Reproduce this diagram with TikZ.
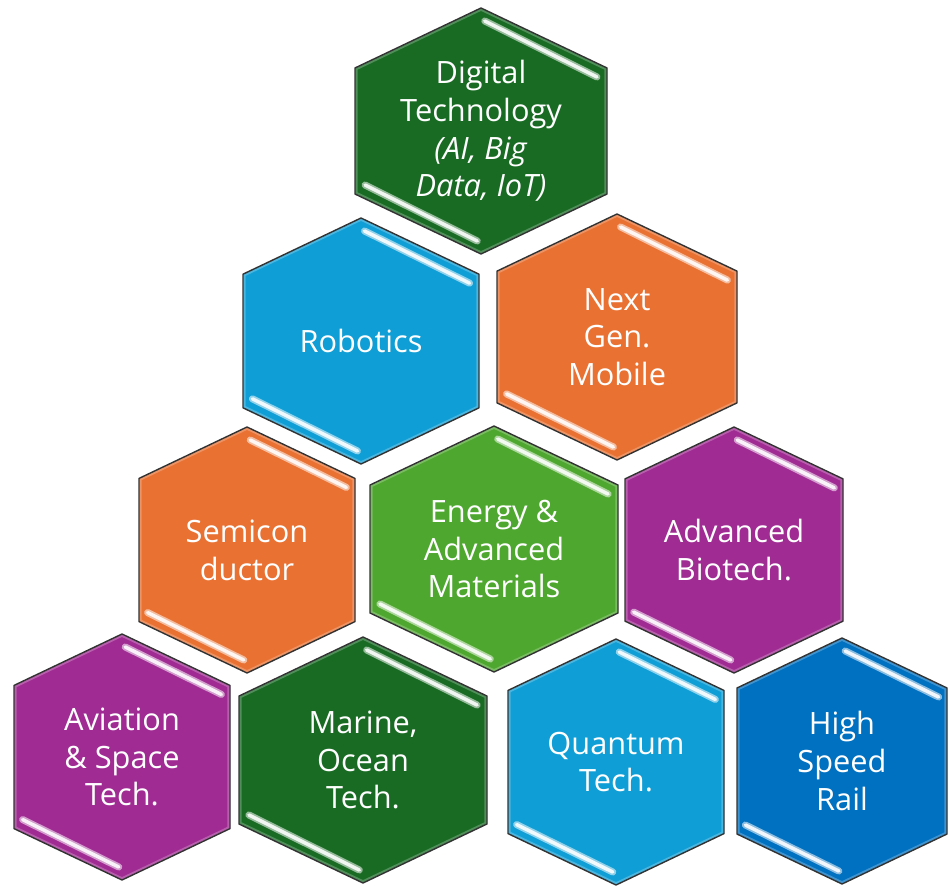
\documentclass[tikz,border=0pt]{standalone}
\usepackage{fontspec}
\setmainfont{Open Sans}
\usepackage{xcolor}

\definecolor{darkgreen}{HTML}{196B24}
\definecolor{lightgreen}{HTML}{4EA72E}
\definecolor{skyblue}{HTML}{0F9ED5}
\definecolor{railblue}{HTML}{0070C0}
\definecolor{techorange}{HTML}{E97132}
\definecolor{techpurple}{HTML}{A02B93}

% outline of one cell, #1 = half width, centre at (0,0)
\newcommand{\hexpath}[1]{(0,-123) -- (#1,{-123+0.476*#1}) -- (#1,{123-0.476*#1})
  -- (0,123) -- (-#1,{123-0.476*#1}) -- (-#1,{-123+0.476*#1}) -- cycle}

% #1 name, #2 x, #3 y, #4 half width, #5 colour, #6 text
\newcommand{\hexcell}[6]{%
  \begin{scope}[shift={(#2,#3)}]
    \fill[#5] \hexpath{#4};
    \begin{scope}
      \clip \hexpath{#4};
      \draw[#5!45!white, line width=3pt, opacity=.45] \hexpath{#4};
    \end{scope}
    \draw[cellrim] \hexpath{#4};
    \draw[glow=#5] (0.03*#4,-110) -- (0.92*#4,{-123+0.476*#4+9});
    \draw[shine=#5] (0.03*#4,-110) -- (0.92*#4,{-123+0.476*#4+9});
    \draw[glow=#5] (-0.92*#4,{123-0.476*#4-9}) -- (-0.03*#4,110);
    \draw[shine=#5] (-0.92*#4,{123-0.476*#4-9}) -- (-0.03*#4,110);
    \node[celltext] (#1) at (0,0) {#6};
  \end{scope}}

\begin{document}
\begin{tikzpicture}[
            x = 0.02cm, y = -0.02cm, % pixel grid, y runs down
            cellrim/.style = {draw=black!80, line width=0.8pt, line join=round},
            glow/.style = {draw=#1!40!white, line width=4pt, line cap=round, opacity=.9},
            shine/.style = {draw=#1!6!white, line width=2pt, line cap=round},
            celltext/.style = {text=white, align=center, inner sep=0pt,
                               font=\fontsize{17.5}{21.5}\selectfont}
        ]
\useasboundingbox (0,0) rectangle (949,885);

\hexcell{dig}{481}{131}{126}{darkgreen}{\fontsize{17.5}{19.8}\selectfont Digital\\Technology\\\textit{(AI, Big}\\\textit{Data, IoT)}}
\hexcell{rob}{361}{341}{118}{skyblue}{Robotics}
\hexcell{ngm}{617}{337}{120}{techorange}{Next\\Gen.\\Mobile}
\hexcell{semi}{247}{550}{108}{techorange}{Semicon\\ductor}
\hexcell{ener}{494}{549}{124}{lightgreen}{Energy \&\\Advanced\\Materials}
\hexcell{bio}{734}{550}{109}{techpurple}{Advanced\\Biotech.}
\hexcell{avi}{122}{757}{108}{techpurple}{Aviation\\\& Space\\Tech.}
\hexcell{mar}{363}{760}{124}{darkgreen}{Marine,\\Ocean\\Tech.}
\hexcell{qua}{616}{762}{108}{skyblue}{Quantum\\Tech.}
\hexcell{hsr}{842}{761}{105}{railblue}{High\\Speed\\Rail}

\end{tikzpicture}
\end{document}
